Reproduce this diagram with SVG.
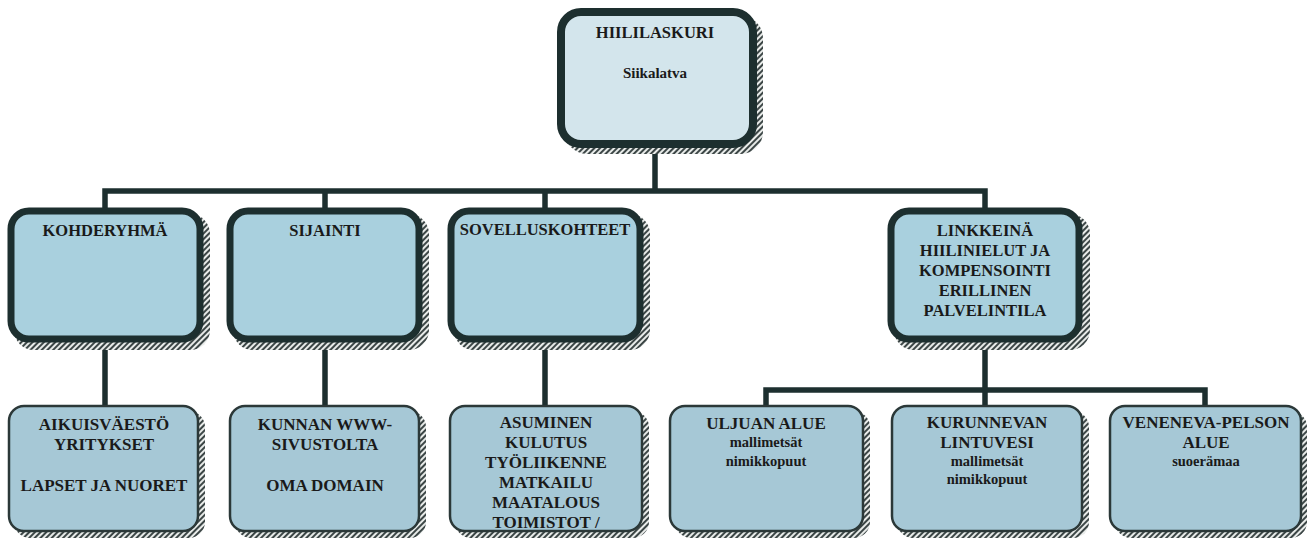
<svg xmlns="http://www.w3.org/2000/svg" width="1308" height="544" viewBox="0 0 1308 544">
<defs>
<pattern id="hatch" width="4" height="4" patternUnits="userSpaceOnUse" patternTransform="rotate(45)">
<rect width="4" height="4" fill="#e8ebe9"/>
<rect width="2" height="4" fill="#3c4646"/>
</pattern>
<style>
.sh{fill:url(#hatch)}
.top{fill:#d3e5ec;stroke:#1d2f2f;stroke-width:8}
.l2{fill:#a9d0de;stroke:#1d2f2f;stroke-width:7}
.l3{fill:#a6c8d6;stroke:#2b3838;stroke-width:2.5}
.t{font-family:"Liberation Serif","Times New Roman",serif;font-weight:bold;fill:#1a1a1a;text-anchor:middle}
.c{font-size:16.5px}
.d{font-size:17px}
.s{font-size:14.5px}
.con{stroke:#1d2f2f;stroke-width:5.5;fill:none;stroke-linecap:square}
</style>
</defs>
<rect width="1308" height="544" fill="#ffffff"/>
<g id="connectors">
<path class="con" d="M655 146V191M105 208V191H985V208M105 342V406M325 208V191M325 342V406M545 208V191M545 342V406M985 342V390M766 406V390H1205V406M985 390V406"/>
</g>
<g id="n-hiililaskuri">
<rect class="sh" x="565" y="16" width="198" height="138" rx="22"/>
<rect class="top" x="561" y="12" width="192" height="132" rx="20"/>
<text class="t c" x="655" y="38">HIILILASKURI</text>
<text class="t" style="font-size:15px" x="655" y="78">Siikalatva</text>
</g>
<g id="n-kohderyhma">
<rect class="sh" x="14" y="214" width="196" height="136" rx="20"/>
<rect class="l2" x="11" y="211" width="189" height="128" rx="18"/>
<text class="t c" x="105" y="236">KOHDERYHMÄ</text>
</g>
<g id="n-sijainti">
<rect class="sh" x="233" y="214" width="196" height="136" rx="20"/>
<rect class="l2" x="230" y="211" width="189" height="128" rx="18"/>
<text class="t c" x="325" y="236">SIJAINTI</text>
</g>
<g id="n-sovelluskohteet">
<rect class="sh" x="454" y="214" width="196" height="136" rx="20"/>
<rect class="l2" x="451" y="211" width="189" height="128" rx="18"/>
<text class="t c" x="545" y="235">SOVELLUSKOHTEET</text>
</g>
<g id="n-linkkeina">
<rect class="sh" x="894" y="214" width="196" height="136" rx="20"/>
<rect class="l2" x="891" y="211" width="188" height="128" rx="18"/>
<text class="t c" x="985" y="236">LINKKEINÄ</text>
<text class="t c" x="985" y="256">HIILINIELUT JA</text>
<text class="t c" x="985" y="276">KOMPENSOINTI</text>
<text class="t c" x="985" y="296">ERILLINEN</text>
<text class="t c" x="985" y="316">PALVELINTILA</text>
</g>
<g id="n-aikuisvaesto">
<rect class="sh" x="14" y="411" width="191" height="127" rx="16"/>
<rect class="l3" x="9" y="406" width="189" height="125" rx="15"/>
<text class="t d" x="104" y="430">AIKUISVÄESTÖ</text>
<text class="t d" x="104" y="450">YRITYKSET</text>
<text class="t d" x="104" y="491">LAPSET JA NUORET</text>
</g>
<g id="n-kunnan">
<rect class="sh" x="235" y="411" width="191" height="127" rx="16"/>
<rect class="l3" x="230" y="406" width="189" height="125" rx="15"/>
<text class="t d" x="325" y="430">KUNNAN WWW-</text>
<text class="t d" x="325" y="450">SIVUSTOLTA</text>
<text class="t d" x="325" y="491">OMA DOMAIN</text>
</g>
<g id="n-asuminen">
<rect class="sh" x="455" y="411" width="194" height="127" rx="16"/>
<rect class="l3" x="450" y="406" width="192" height="125" rx="15"/>
<text class="t d" x="546" y="428">ASUMINEN</text>
<text class="t d" x="546" y="448">KULUTUS</text>
<text class="t d" x="546" y="468">TYÖLIIKENNE</text>
<text class="t d" x="546" y="488">MATKAILU</text>
<text class="t d" x="546" y="508">MAATALOUS</text>
<text class="t d" x="546" y="528">TOIMISTOT /</text>
</g>
<g id="n-uljuan">
<rect class="sh" x="675" y="411" width="195" height="127" rx="16"/>
<rect class="l3" x="670" y="406" width="193" height="125" rx="15"/>
<text class="t d" x="766" y="429">ULJUAN ALUE</text>
<text class="t s" x="766" y="447">mallimetsät</text>
<text class="t s" x="766" y="466">nimikkopuut</text>
</g>
<g id="n-kurunnevan">
<rect class="sh" x="897" y="411" width="192" height="127" rx="16"/>
<rect class="l3" x="892" y="406" width="190" height="125" rx="15"/>
<text class="t d" x="987" y="428">KURUNNEVAN</text>
<text class="t d" x="987" y="448">LINTUVESI</text>
<text class="t s" x="987" y="466">mallimetsät</text>
<text class="t s" x="987" y="484">nimikkopuut</text>
</g>
<g id="n-veneneva">
<rect class="sh" x="1115" y="411" width="192" height="127" rx="16"/>
<rect class="l3" x="1110" y="406" width="191" height="125" rx="15"/>
<text class="t d" x="1206" y="428">VENENEVA-PELSON</text>
<text class="t d" x="1206" y="448">ALUE</text>
<text class="t s" x="1206" y="466">suoerämaa</text>
</g>
</svg>
